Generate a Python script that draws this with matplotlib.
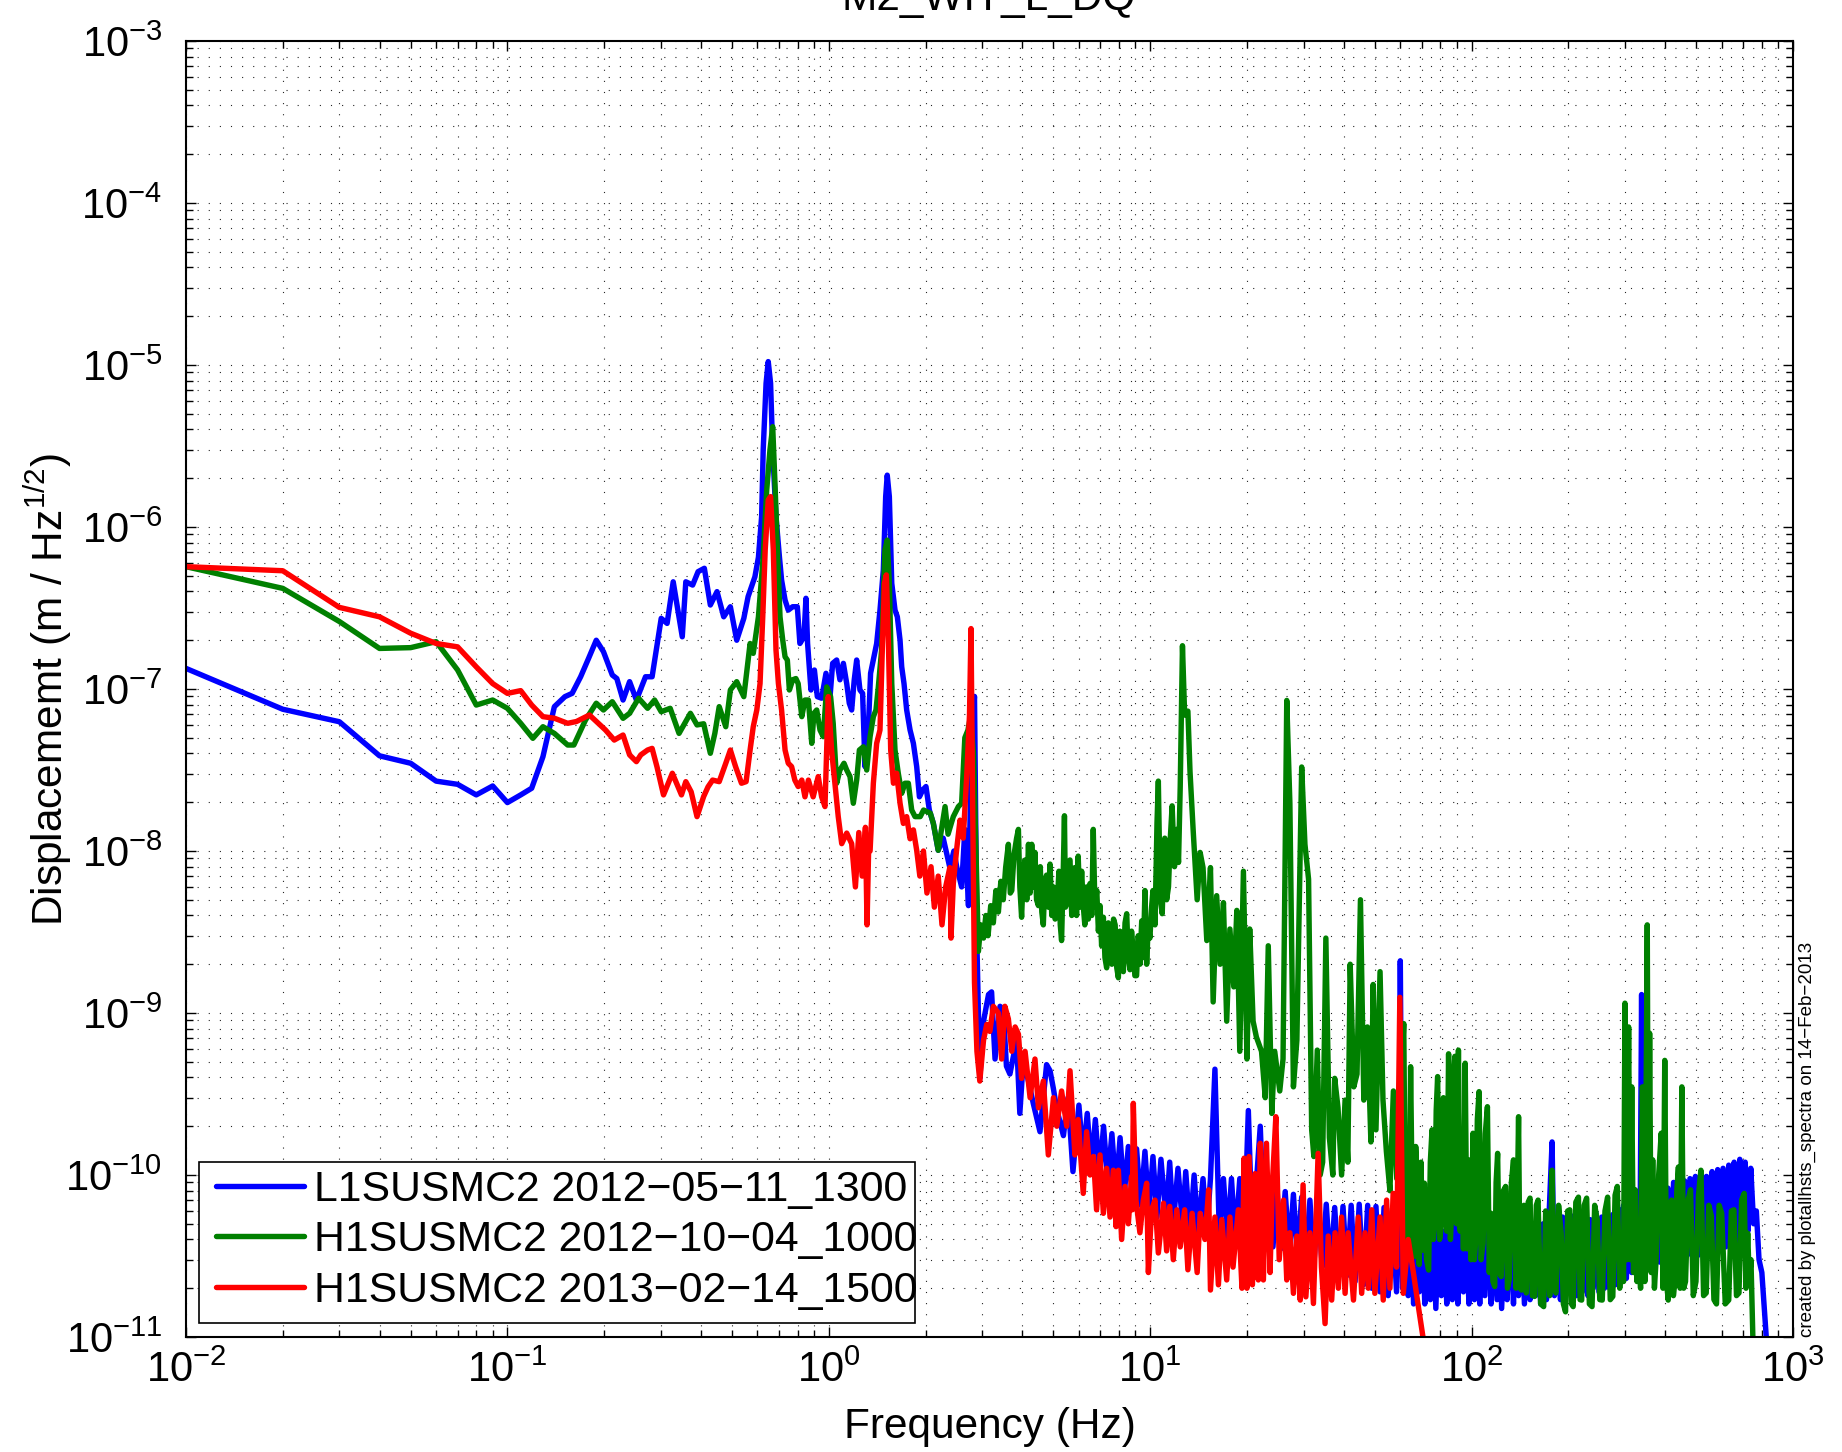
import matplotlib
matplotlib.use('Agg')
import matplotlib.pyplot as plt
from matplotlib.patches import Rectangle
from matplotlib.ticker import LogLocator, NullFormatter, LogFormatterSciNotation

plt.rcParams['font.family'] = ['Liberation Sans', 'DejaVu Sans']
plt.rcParams['mathtext.fontset'] = 'custom'
plt.rcParams['mathtext.rm'] = 'Liberation Sans'
plt.rcParams['mathtext.it'] = 'Liberation Sans:italic'
plt.rcParams['mathtext.bf'] = 'Liberation Sans:bold'
plt.rcParams['mathtext.default'] = 'regular'

# ---------------- data (frequency [Hz], displacement ASD [m/sqrt(Hz)]) ----------------
series_labels = ['L1SUSMC2 2012\u221205\u221211_1300',
                 'H1SUSMC2 2012\u221210\u221204_1000',
                 'H1SUSMC2 2013\u221202\u221214_1500']
series_colors = ['#0000ff', '#008000', '#ff0000']

blue_data = [
    (0.010,1.34e-7),(0.020,7.50e-8),(0.030,6.28e-8),(0.040,3.87e-8),(0.050,3.48e-8),(0.060,2.70e-8),(0.070,2.58e-8),(0.080,2.22e-8),(0.090,2.52e-8),(0.100,1.99e-8),
    (0.110,2.22e-8),(0.119,2.44e-8),(0.129,3.82e-8),(0.140,7.78e-8),(0.151,8.97e-8),(0.159,9.4e-8),(0.169,1.19e-7),(0.179,1.55e-7),(0.189,2.0e-7),(0.199,1.70e-7),
    (0.212,1.22e-7),(0.219,1.16e-7),(0.229,8.55e-8),(0.240,1.11e-7),(0.252,8.55e-8),(0.269,1.19e-7),(0.282,1.19e-7),(0.301,2.73e-7),(0.314,2.54e-7),(0.328,4.59e-7),
    (0.350,2.10e-7),(0.359,4.59e-7),(0.377,4.38e-7),(0.392,5.30e-7),(0.410,5.56e-7),(0.428,3.30e-7),(0.449,3.99e-7),(0.471,2.79e-7),(0.494,3.22e-7),(0.517,2.0e-7),
    (0.544,2.73e-7),(0.561,3.72e-7),(0.589,4.93e-7),(0.604,6.5e-7),(0.618,1.16e-6),(0.625,2.99e-6),(0.638,7.71e-6),(0.648,1.05e-5),(0.659,7.71e-6),(0.669,2.99e-6),
    (0.685,1.16e-6),(0.702,6.56e-7),(0.713,4.71e-7),(0.731,3.54e-7),(0.748,3.07e-7),(0.772,3.22e-7),(0.798,3.22e-7),(0.813,1.91e-7),(0.837,2.10e-7),(0.849,3.63e-7),
    (0.859,1.91e-7),(0.880,9.86e-8),(0.902,1.31e-7),(0.921,8.97e-8),(0.950,8.77e-8),(0.980,1.25e-7),(1.009,8.97e-8),(1.028,1.44e-7),(1.058,1.51e-7),(1.083,1.14e-7),
    (1.110,1.44e-7),(1.137,1.08e-7),(1.158,8.17e-8),(1.178,7.42e-8),(1.200,1.14e-7),(1.221,1.51e-7),(1.250,9.86e-8),(1.274,9.40e-8),(1.296,3.32e-8),(1.327,5.58e-8),
    (1.349,1.25e-7),(1.382,1.58e-7),(1.409,1.91e-7),(1.443,3.07e-7),(1.478,5.43e-7),(1.503,1.54e-6),(1.520,2.09e-6),(1.543,1.54e-6),(1.570,4.49e-7),(1.607,3.07e-7),
    (1.634,2.79e-7),(1.666,2.00e-7),(1.686,1.37e-7),(1.714,1.08e-7),(1.747,7.42e-8),(1.790,5.58e-8),(1.833,4.62e-8),(1.877,3.32e-8),(1.914,2.16e-8),(1.960,2.38e-8),
    (2.006,2.50e-8),(2.055,1.79e-8),(2.115,1.48e-8),(2.19,1.01e-8),(2.27,1.2e-8),(2.38,7.9e-9),(2.45,1.0e-8),(2.50,8.0e-9),(2.59,6.0e-9),(2.65,1.36e-8),
    (2.72,4.6e-9),(2.78,5.0e-8),(2.84,9.0e-8),(2.89,2.65e-9),(2.95,3.95e-10),(3.03,8.9e-10),(3.14,1.3e-9),(3.21,1.35e-9),(3.29,5.2e-10),(3.41,1.1e-9),
    (3.49,1.05e-9),(3.57,4.7e-10),(3.66,4.2e-10),(3.84,6.8e-10),(3.93,2.4e-10),(4.03,5.2e-10),(4.18,3.8e-10),(4.33,2.75e-10),(4.54,1.85e-10),(4.76,4.8e-10),
    (4.88,4.4e-10),(5.00,3.4e-10),(5.12,2.55e-10),(5.37,1.75e-10),(5.55,3.0e-10),(5.75,1.05e-10),
    (6.0,2.7e-10),(6.18,1.3e-10),(6.37,2.4e-10),(6.56,1.1e-10),(6.75,2.2e-10),(6.96,1.0e-10),(7.16,2.0e-10),(7.38,9e-11),(7.6,1.8e-10),(7.83,8e-11),
    (8.06,1.7e-10),(8.3,7.5e-11),(8.55,1.5e-10),(8.81,7e-11),(9.07,1.45e-10),(9.35,6.5e-11),(9.63,1.4e-10),(9.91,6e-11),(10.2,1.3e-10),(10.5,5.5e-11),
    (10.8,1.25e-10),(11.2,5.5e-11),(11.5,1.2e-10),(11.8,5e-11),(12.2,1.1e-10),(12.6,5e-11),(12.9,1.05e-10),(13.3,4.5e-11),(13.7,1.0e-10),(14.1,4.5e-11),
    (14.6,9.5e-11),(15.0,4.5e-11),(15.4,9.5e-11),(15.9,4.5e-10),(16.4,4.5e-11),(16.9,9.5e-11),(17.4,4e-11),(17.9,9.5e-11),(18.4,4e-11),(19.0,9.5e-11),
    (19.6,4e-11),(20.2,2.5e-10),(20.8,4e-11),(21.4,9e-11),(22.0,2.0e-10),(22.7,3.8e-11),(23.4,8.7e-11),(24.1,3.6e-11),(24.8,8.2e-11),(25.5,3.5e-11),
    (26.3,7.9e-11),(27.1,3.3e-11),(27.9,7.6e-11),(28.7,3.1e-11),(29.6,7.3e-11),(30.5,3.0e-11),(31.4,7.0e-11),(32.3,2.8e-11),(33.3,6.9e-11),(34.3,2.7e-11),
    (35.3,6.6e-11),(36.4,2.6e-11),(37.5,6.3e-11),(38.6,2.5e-11),(39.8,6.4e-11),(41.0,2.4e-11),(42.2,6.5e-11),(43.4,2.2e-11),(44.7,6.6e-11),(46.1,2.1e-11),
    (47.5,6.5e-11),(48.9,2.0e-11),(50.4,6.4e-11),(51.9,1.9e-11),(53.4,6.3e-11),(55.0,1.8e-11),(56.7,6.2e-11),(58.4,1.9e-11),(59.5,6.0e-11),(60.0,2.1e-9),
    (61,2.0e-11),(62.2,5.5e-11),(63.5,1.8e-11),(64.7,4.8e-11),(66,1.6e-11),(67.3,5.3e-11),(68.7,1.9e-11),(70.1,5.6e-11),(71.5,1.6e-11),(72.9,4.6e-11),
    (74.4,1.7e-11),(75.8,5.2e-11),(77.4,1.5e-11),(78.9,5.0e-11),(80.5,1.8e-11),(82.1,4.5e-11),(83.7,1.6e-11),(85.4,5.4e-11),(87.1,1.7e-11),(88.9,5.5e-11),
    (90.6,1.6e-11),(92.4,4.8e-11),(94.3,1.9e-11),(96.2,5.1e-11),(98.1,1.6e-11),(100,5.6e-11),(102,1.7e-11),(104,4.7e-11),(106,1.6e-11),(108,5.5e-11),
    (110,1.8e-11),(113,5.0e-11),(115,1.6e-11),(117,4.6e-11),(120,1.7e-11),(122,5.3e-11),(124,1.5e-11),(127,5.0e-11),(129,1.7e-11),(132,5.4e-11),
    (135,1.6e-11),(137,4.8e-11),(140,1.8e-11),(143,5.2e-11),(146,1.6e-11),(149,5.5e-11),(152,1.7e-11),(155,4.7e-11),(158,1.8e-11),(161,5.3e-11),
    (164,1.6e-11),(167,5.0e-11),(171,1.7e-11),(174,5.4e-11),(178,1.6e-10),(181,1.8e-11),(185,5.0e-11),(189,1.7e-11),(192,5.5e-11),(196,1.8e-11),
    (200,5.2e-11),(204,1.9e-11),(208,5.6e-11),(212,1.8e-11),(217,5.0e-11),(221,1.9e-11),(225,5.7e-11),(230,1.8e-11),(234,5.3e-11),(239,2.0e-11),
    (244,5.8e-11),(249,1.9e-11),(254,5.5e-11),(259,2.0e-11),(264,6.0e-11),(269,2.0e-11),(275,5.7e-11),(280,2.1e-11),(286,6.2e-11),(291,2.2e-11),
    (297,6.5e-11),(303,2.3e-11),(309,7.0e-11),(315,2.5e-11),(322,7.5e-11),(328,2.6e-11),(335,8.0e-11),(338,1.3e-9),(341,2.8e-11),(348,8.2e-11),
    (355,2.9e-11),(362,8.5e-11),(370,3.0e-11),(377,8.0e-11),(385,2.9e-11),(392,8.6e-11),(400,3.0e-11),(408,8.3e-11),(416,3.1e-11),(425,9.0e-11),
    (433,3.0e-11),(442,8.8e-11),(451,3.1e-11),(460,9.2e-11),(469,3.2e-11),(478,9.5e-11),(488,3.1e-11),(497,9.8e-11),(507,3.2e-11),(518,1.0e-10),
    (528,3.3e-11),(538,9.8e-11),(549,3.3e-11),(560,1.05e-10),(571,3.4e-11),(583,1.08e-10),(594,3.5e-11),(606,1.1e-10),(618,3.6e-11),(631,1.15e-10),
    (643,3.7e-11),(656,1.2e-10),(669,3.9e-11),(683,1.25e-10),(696,4.1e-11),(710,1.2e-10),(724,4.5e-11),(739,1.1e-10),(754,5.0e-11),(769,6.0e-11),
    (784,3.0e-11),(800,2.5e-11),(816,1.4e-11),(832,8.0e-12),
]

green_data = [
    (0.010,5.69e-7),(0.020,4.18e-7),(0.030,2.61e-7),(0.040,1.78e-7),(0.050,1.80e-7),(0.060,1.96e-7),(0.070,1.31e-7),(0.080,7.96e-8),(0.090,8.55e-8),(0.100,7.6e-8),
    (0.110,6.14e-8),(0.120,4.96e-8),(0.129,5.85e-8),(0.140,5.32e-8),(0.154,4.51e-8),(0.161,4.51e-8),(0.175,6.44e-8),(0.189,8.17e-8),(0.199,7.42e-8),(0.212,8.35e-8),
    (0.229,6.59e-8),(0.240,7.08e-8),(0.256,8.77e-8),(0.273,7.6e-8),(0.287,8.55e-8),(0.301,7.24e-8),(0.321,7.6e-8),(0.342,5.32e-8),(0.371,7.08e-8),(0.389,6.0e-8),
    (0.408,6.1e-8),(0.428,4.01e-8),(0.442,5.32e-8),(0.456,7.78e-8),(0.478,5.85e-8),(0.494,9.86e-8),(0.517,1.11e-7),(0.544,8.97e-8),(0.569,1.91e-7),(0.582,1.66e-7),
    (0.604,2.79e-7),(0.625,6.56e-7),(0.641,1.69e-6),(0.656,2.99e-6),(0.669,4.16e-6),(0.680,1.86e-6),(0.692,7.21e-7),(0.705,2.79e-7),(0.719,2.00e-7),(0.731,1.58e-7),
    (0.743,1.51e-7),(0.754,9.86e-8),(0.772,1.14e-7),(0.790,1.16e-7),(0.803,1.08e-7),(0.824,6.75e-8),(0.843,8.55e-8),(0.864,8.55e-8),(0.885,4.62e-8),(0.899,7.08e-8),
    (0.917,7.42e-8),(0.939,5.58e-8),(0.961,5.08e-8),(0.985,1.03e-7),(1.013,8.97e-8),(1.032,6.14e-8),(1.058,2.62e-8),(1.083,3.16e-8),(1.115,3.48e-8),(1.137,3.16e-8),
    (1.164,2.88e-8),(1.192,1.97e-8),(1.221,2.74e-8),(1.245,4.2e-8),(1.281,4.4e-8),(1.312,3.16e-8),(1.344,5.08e-8),(1.376,6.75e-8),(1.402,7.42e-8),(1.426,1.03e-7),
    (1.460,1.74e-7),(1.495,7.21e-7),(1.520,8.3e-7),(1.543,4.49e-7),(1.570,1.08e-7),(1.607,4.2e-8),(1.645,3.02e-8),(1.686,2.27e-8),(1.726,2.62e-8),(1.768,2.62e-8),
    (1.811,1.79e-8),(1.855,1.63e-8),(1.925,1.63e-8),(1.972,1.79e-8),(2.07,1.71e-8),(2.115,1.48e-8),(2.19,1.01e-8),(2.30,1.88e-8),(2.35,1.27e-8),(2.44,1.63e-8),
    (2.53,1.88e-8),(2.59,1.97e-8),(2.65,5.0e-8),(2.71,5.58e-8),(2.76,6.75e-8),(2.82,4.0e-8),(2.87,1.01e-8),
    (2.92,2.4e-9),(2.97,3.5e-9),(3.03,2.9e-9),(3.08,4.0e-9),(3.13,3.0e-9),(3.19,4.6e-9),(3.25,3.6e-9),(3.31,5.7e-9),(3.37,4.2e-9),(3.43,6.5e-9),
    (3.49,5.0e-9),(3.55,7.9e-9),(3.62,1.1e-8),(3.67,5.5e-9),(3.71,5.7e-9),(3.77,9.5e-9),(3.84,1.2e-8),(3.89,1.36e-8),(3.93,6.0e-9),(3.98,3.9e-9),
    (4.03,7.5e-9),(4.08,8.8e-9),(4.13,5.0e-9),(4.18,1.1e-8),(4.23,5.5e-9),(4.28,1.1e-8),(4.33,6.0e-9),(4.38,9.8e-9),(4.43,5.0e-9),(4.49,4.6e-9),
    (4.55,8.0e-9),(4.60,4.2e-9),(4.65,3.5e-9),(4.70,6.5e-9),(4.76,7.1e-9),(4.82,4.5e-9),(4.88,8.3e-9),(4.94,4.0e-9),(5.00,6.0e-9),(5.06,3.8e-9),
    (5.12,4.1e-9),(5.20,7.5e-9),(5.25,3.5e-9),(5.30,2.8e-9),(5.36,7.0e-9),(5.41,1.65e-8),(5.45,4.5e-9),(5.50,4.8e-9),(5.56,8.5e-9),(5.63,8.8e-9),
    (5.70,4.0e-9),(5.76,6.5e-9),(5.83,7.9e-9),(5.90,4.0e-9),(5.97,9.3e-9),(6.04,4.5e-9),(6.12,7.5e-9),(6.19,4.6e-9),(6.26,3.5e-9),(6.34,6.0e-9),
    (6.42,3.8e-9),(6.50,6.3e-9),(6.58,4.0e-9),(6.65,1.36e-8),(6.73,4.5e-9),(6.82,5.7e-9),(6.90,3.2e-9),(6.98,4.6e-9),(7.06,2.6e-9),(7.15,3.9e-9),
    (7.23,2.2e-9),(7.32,1.9e-9),(7.41,3.6e-9),(7.50,3.3e-9),(7.60,2.0e-9),(7.69,3.8e-9),(7.78,3.5e-9),(7.87,1.9e-9),(7.96,1.65e-9),(8.05,3.2e-9),
    (8.15,2.9e-9),(8.25,1.8e-9),(8.35,3.6e-9),(8.45,4.1e-9),(8.55,2.2e-9),(8.65,1.85e-9),(8.75,3.2e-9),(8.86,2.4e-9),(8.96,1.7e-9),(9.07,1.7e-9),
    (9.18,3.0e-9),(9.29,2.0e-9),(9.41,3.7e-9),(9.52,2.2e-9),(9.63,5.7e-9),(9.75,2.0e-9),(9.86,3.5e-9),(9.98,2.9e-9),(10.1,4.5e-9),(10.2,5.7e-9),
    (10.35,3.5e-9),(10.5,1.5e-8),(10.6,2.7e-8),(10.75,5.0e-9),(10.9,4.1e-9),(11.0,8.0e-9),(11.1,1.2e-8),(11.25,5.0e-9),(11.4,6.0e-9),(11.55,1.2e-8),
    (11.7,1.9e-8),(11.9,8.0e-9),(12.1,1.36e-8),(12.25,8.5e-9),(12.4,2.5e-8),
    (12.6,1.85e-7),(12.8,6.9e-8),(13.1,7.3e-8),(13.3,3.1e-8),(13.6,1.36e-8),(14.0,5.0e-9),(14.3,9.8e-9),(14.6,7.9e-9),(15.0,2.8e-9),
    (15.4,7.9e-9),(15.7,1.17e-9),(16.1,5.3e-9),(16.5,2.0e-9),(16.9,4.8e-9),(17.3,8.9e-10),(17.7,3.3e-9),(18.2,1.45e-9),(18.6,4.3e-9),(19.0,5.8e-10),
    (19.5,7.5e-9),(20.0,5.2e-10),(20.4,3.3e-9),(20.9,8.9e-10),(21.4,7.1e-10),(22.2,5.8e-10),(22.8,3.0e-10),(23.3,2.6e-9),(23.9,2.4e-10),(24.4,5.8e-10),
    (25.3,3.3e-10),(25.9,5.2e-10),(26.6,8.5e-8),(27.2,1.98e-8),(27.9,3.5e-10),(28.6,6.8e-10),(29.6,3.3e-8),(30.3,1.1e-8),(31.1,6.7e-9),(31.8,1.9e-10),
    (32.3,1.3e-10),(33.1,5.9e-10),(33.8,1.0e-10),(34.4,1.2e-10),(35.2,2.9e-9),(36.1,1.7e-10),(37.0,1.0e-10),(37.5,3.95e-10),(38.4,2.6e-10),(39.4,1.0e-10),
    (40.4,2.9e-10),(41.2,1.2e-10),(41.9,2.0e-9),(43.0,3.5e-10),(44.0,4.2e-10),(45.1,5.0e-9),(46.2,2.9e-10),(47.4,8.2e-10),(48.6,1.6e-10),(49.4,1.5e-9),
    (50.4,1.9e-10),(51.9,1.8e-9),(53.0,2.9e-10),(54.3,1.4e-10),(55.7,8.0e-11),(57.1,3.3e-10),(58.5,9.5e-11),(59.9,2.5e-10),
    (61.5,8.6e-10),(62.3,4.0e-11),(63.1,1.36e-10),(63.8,3.5e-11),(64.6,4.66e-10),(65.4,6.0e-11),(66.2,3.13e-11),(67.0,1.5e-10),(67.9,8.5e-11),(68.7,2.8e-11),
    (69.6,1.2e-10),(70.4,3.44e-11),(71.3,8.9e-11),(72.4,3.0e-11),(73.5,2.59e-11),(74.4,1.2e-10),(75.3,1.9e-10),(76.0,4.0e-11),(76.8,5.3e-11),(77.6,2.5e-10),
    (78.4,4.05e-10),(79.5,4.0e-11),(80.7,5.0e-11),(81.7,3.0e-10),(82.7,2.29e-10),(83.7,4.5e-11),(84.8,5.6e-10),(85.9,4.0e-11),(87.0,6.7e-11),(87.8,4.0e-10),
    (88.7,5.4e-10),(89.8,5.0e-11),(91.0,5.9e-10),(92.1,4.5e-11),(93.2,1.81e-10),(94.3,3.5e-11),(95.5,4.9e-10),(96.7,3.5e-11),(97.9,1.24e-10),(99.5,3.0e-11),
    (101,1.81e-10),(102,3.0e-11),(103,3.97e-11),(104.2,2.2e-10),(105.5,3.27e-10),(107,3.0e-11),(108.6,3.79e-11),(110.3,1.8e-10),(112,2.64e-10),(113.5,2.5e-11),
    (115,5.8e-11),(116.5,2.2e-11),(118,2.05e-11),(119.2,9e-11),(120.5,1.36e-10),(122,2.5e-11),(123.6,2.36e-11),(125.6,8e-11),(127.6,8.5e-11),(129.3,2.0e-11),
    (131,2.27e-11),(133,9e-11),(135,1.24e-10),(137.5,2.0e-11),(140,2.29e-10),(141.5,2.0e-11),(143,1.95e-11),(145.5,6.5e-11),(148,1.87e-11),(150,6.8e-11),
    (152,7.2e-11),(154.5,1.8e-11),(157,1.78e-11),(159,6.5e-11),(161,7.0e-11),(164,1.6e-11),(167.6,1.54e-11),(170,6.0e-11),(172,5.3e-11),(175,1.8e-11),
    (178,1.07e-10),(180.5,2.0e-11),(183,1.87e-11),(186.5,6.5e-11),(190,4.37e-11),(193,1.6e-11),(196,1.43e-11),(199,6.0e-11),(202,6.1e-11),(204.5,1.6e-11),
    (207,1.54e-11),(211,6.8e-11),(215,7.3e-11),(217.5,1.7e-11),(220,1.69e-11),(224,6.5e-11),(228,7.2e-11),(232.5,1.6e-11),(237,1.54e-11),(241.5,6.5e-11),
    (246,5.3e-11),(250.5,1.7e-11),(255,1.69e-11),(260,6.0e-11),(265,7.3e-11),(270,1.7e-11),(275,1.78e-11),(279.5,7.5e-11),(284,8.5e-11),(289,2.0e-11),
    (294,4.37e-11),(297,2.2e-11),(300,1.15e-9),(304,3.0e-11),(308,8.2e-10),(311.5,3.0e-11),(315,3.5e-10),(319,2.5e-11),(323,8.1e-11),(327,2.2e-11),
    (331,4.37e-11),(335.5,2.0e-11),(340,3.5e-10),(346,2.2e-11),(352,3.5e-9),(355,3.0e-11),(358,7.5e-10),(362,2.5e-11),(366,1.24e-10),(370.5,2.0e-11),
    (375,2.99e-11),(382,1.0e-10),(389,1.81e-10),(394,2.0e-11),(399,5.1e-10),(404,2.2e-11),(409,1.69e-11),(414,6.5e-11),(419,7.0e-11),(424.5,1.8e-11),
    (430,2.27e-11),(435,8e-11),(440,1.12e-10),(445.5,2.0e-11),(451,3.5e-10),(457,2.0e-11),(463,2.2e-11),(471.5,7.0e-11),(480,8.1e-11),(489.5,1.8e-11),
    (499,2.2e-11),(508,7.5e-11),(517,1.07e-10),(527,1.8e-11),(537,1.87e-11),(547,6.5e-11),(557,5.6e-11),(567.5,1.7e-11),(578,1.6e-11),(589,6.5e-11),
    (600,5.8e-11),(615.5,1.6e-11),(631,1.69e-11),(643,6.0e-11),(655,6.1e-11),(667,1.8e-11),(679,1.87e-11),(692,7.0e-11),(705,7.7e-11),(714,2.0e-11),
    (723,4.37e-11),(731,2.2e-11),(740,3.0e-11),(750,1.0e-11),(765,6.0e-12),
]

red_data = [
    (0.010,5.69e-7),(0.020,5.37e-7),(0.030,3.19e-7),(0.040,2.79e-7),(0.050,2.21e-7),(0.060,1.91e-7),(0.070,1.82e-7),(0.080,1.37e-7),(0.090,1.08e-7),(0.100,9.4e-8),
    (0.110,9.77e-8),(0.119,7.96e-8),(0.129,6.75e-8),(0.140,6.6e-8),(0.154,6.14e-8),(0.164,6.3e-8),(0.180,6.91e-8),(0.202,5.58e-8),(0.215,4.84e-8),(0.229,5.2e-8),
    (0.240,3.92e-8),(0.252,3.56e-8),(0.260,3.92e-8),(0.273,4.2e-8),(0.282,4.3e-8),(0.292,3.31e-8),(0.306,2.22e-8),(0.326,3.02e-8),(0.348,2.22e-8),(0.359,2.68e-8),
    (0.373,2.32e-8),(0.389,1.63e-8),(0.408,2.17e-8),(0.421,2.49e-8),(0.435,2.74e-8),(0.456,2.68e-8),(0.478,3.48e-8),(0.494,4.2e-8),(0.513,3.31e-8),(0.535,2.62e-8),
    (0.553,2.68e-8),(0.569,4.2e-8),(0.582,5.85e-8),(0.597,7.42e-8),(0.611,1.08e-7),(0.623,2.79e-7),(0.634,7.21e-7),(0.648,1.47e-6),(0.659,1.54e-6),(0.672,7.21e-7),
    (0.685,1.74e-7),(0.697,1.08e-7),(0.713,7.42e-8),(0.731,4.2e-8),(0.748,3.48e-8),(0.766,3.32e-8),(0.784,2.74e-8),(0.803,2.50e-8),(0.824,2.74e-8),(0.843,2.16e-8),
    (0.864,2.74e-8),(0.894,2.16e-8),(0.927,2.88e-8),(0.950,2.16e-8),(0.973,1.88e-8),(0.996,8.97e-8),(1.02,4.2e-8),(1.045,2.62e-8),(1.07,1.63e-8),(1.097,1.11e-8),
    (1.137,1.29e-8),(1.178,1.11e-8),(1.21,6.0e-9),(1.24,1.3e-8),(1.27,7.0e-9),(1.30,1.4e-8),(1.315,3.5e-9),(1.33,1.0e-8),(1.344,1.0e-8),(1.376,2.62e-8),
    (1.409,4.62e-8),(1.443,5.58e-8),(1.47,2.0e-7),(1.49,4.49e-7),(1.51,5.06e-7),(1.533,1.91e-7),(1.558,4.2e-8),(1.589,2.62e-8),(1.626,3.02e-8),(1.666,1.97e-8),
    (1.706,1.48e-8),(1.747,1.63e-8),(1.790,1.19e-8),(1.833,1.35e-8),(1.877,1.01e-8),(1.92,7.0e-9),(1.97,1.0e-8),(2.02,5.5e-9),(2.08,8.0e-9),(2.13,4.5e-9),
    (2.19,7.0e-9),(2.25,3.5e-9),(2.31,6.0e-9),(2.38,7.9e-9),(2.40,2.9e-9),(2.44,6.3e-9),(2.50,1.03e-8),(2.56,1.55e-8),(2.62,1.2e-8),(2.69,3.06e-8),
    (2.74,6.9e-8),(2.77,2.36e-7),(2.80,2.33e-8),(2.84,1.54e-9),(2.89,5.8e-10),(2.95,3.8e-10),(3.03,6.8e-10),(3.10,8.5e-10),(3.17,7.7e-10),(3.25,1.1e-9),
    (3.37,1.0e-9),(3.45,5.2e-10),(3.53,1.1e-9),(3.62,9.2e-10),(3.71,5.8e-10),(3.80,8.2e-10),(3.89,7.4e-10),(3.98,3.95e-10),(4.08,5.8e-10),(4.23,3.0e-10),
    (4.38,5.2e-10),(4.49,2.6e-10),(4.65,3.8e-10),(4.82,1.33e-10),(5.00,3.0e-10),(5.12,2.0e-10),(5.30,3.3e-10),(5.50,2.0e-10),(5.63,4.4e-10),(5.83,1.33e-10),
    (5.97,2.2e-10),(6.19,7.7e-11),(6.34,1.85e-10),(6.50,1.0e-10),(6.66,1.3e-10),(6.81,6.1e-11),(6.98,1.33e-10),(7.15,5.8e-11),(7.32,1.10e-10),(7.50,5.5e-11),
    (7.68,1.07e-10),(7.83,4.8e-11),(7.96,1.07e-10),(8.15,4.0e-11),(8.35,8.5e-11),(8.55,5.0e-11),(8.75,9.8e-11),(8.80,6.1e-11),(8.86,2.77e-10),(9.03,7.0e-11),
    (9.29,4.4e-11),(9.52,7.0e-11),(9.75,8.9e-11),(9.87,2.5e-11),(10.1,6.1e-11),(10.35,7.0e-11),(10.6,3.3e-11),(11.0,6.7e-11),(11.25,3.4e-11),(11.5,6.4e-11),
    (11.8,3.0e-11),(12.1,6.1e-11),(12.4,3.6e-11),(12.8,6.1e-11),(13.1,2.6e-11),(13.5,5.8e-11),(14.0,2.5e-11),(14.3,5.8e-11),(14.8,4.0e-11),(15.2,8.1e-11),
    (15.4,1.95e-11),(15.9,5.5e-11),(16.3,2.1e-11),(16.7,5.3e-11),(17.3,2.25e-11),(17.7,5.5e-11),(18.1,2.7e-11),(18.8,6.1e-11),(19.3,2.0e-11),(19.6,1.27e-10),
    (20.0,2.0e-11),(20.3,1.30e-10),(20.8,2.1e-11),(21.2,1.02e-10),(21.7,2.25e-11),(22.0,1.57e-10),(22.5,2.25e-11),(23.0,1.57e-10),(23.6,2.5e-11),(24.0,8.9e-11),
    (24.6,2.29e-10),(25.2,3.0e-11),(26.0,7.0e-11),(26.6,2.25e-11),(27.2,4.4e-11),(27.9,1.86e-11),(28.6,4.2e-11),(29.3,1.69e-11),(29.9,8.7e-11),(30.5,1.77e-11),
    (31.4,4.4e-11),(32.2,1.61e-11),(33.3,1.36e-10),(34.1,2.7e-11),(35.0,1.21e-11),(35.8,4.2e-11),(36.7,1.69e-11),(37.6,4.4e-11),(38.5,2.0e-11),(39.4,5.5e-11),
    (40.4,1.86e-11),(41.3,4.4e-11),(42.9,1.69e-11),(44.4,5.5e-11),(45.5,1.86e-11),(46.6,4.4e-11),(47.7,2.0e-11),(48.9,6.1e-11),(50.0,1.86e-11),(51.9,5.5e-11),
    (53.1,1.69e-11),(54.4,7.0e-11),(55.7,2.0e-11),(57.0,7.7e-11),(58.4,2.7e-11),(59.8,1.25e-9),(61.3,1.86e-11),(63.5,4.0e-11),(65.9,2.5e-11),(68.3,1.54e-11),
    (70.8,9.6e-12),(72.5,6.0e-12),
]

title_text = 'M2_WIT_L_DQ'
xlabel_text = 'Frequency (Hz)'
ylabel_text = 'Displacememt (m / Hz$^{1/2}$)'
credit_text = 'created by plotallhsts_spectra on 14\u2212Feb\u22122013'
x_limits = (1e-2, 1e3)
y_limits = (1e-11, 1e-3)

# ---------------- figure ----------------
W, H = 1842, 1452
fig = plt.figure(figsize=(W / 100, H / 100), dpi=100)
fig.patch.set_facecolor('white')
ax = fig.add_axes([186 / W, 1 - 1337 / H, (1793 - 186) / W, (1337 - 41) / H])

for data, color, label in zip([blue_data, green_data, red_data], series_colors, series_labels):
    f, a = zip(*data)
    ax.plot(f, a, color=color, lw=3.9, label=label,
            solid_joinstyle='round', solid_capstyle='round')

ax.set_xscale('log')
ax.set_yscale('log')
ax.set_xlim(*x_limits)
ax.set_ylim(*y_limits)

for axis in (ax.xaxis, ax.yaxis):
    axis.set_major_locator(LogLocator(base=10, numticks=30))
    axis.set_minor_locator(LogLocator(base=10, subs=tuple(range(2, 10)), numticks=300))
    axis.set_major_formatter(LogFormatterSciNotation())
    axis.set_minor_formatter(NullFormatter())

ax.set_axisbelow(True)
ax.grid(True, which='both', color='black', linestyle=(0, (1, 9)), linewidth=0.8, alpha=0.85)

ax.tick_params(which='both', direction='in', top=True, right=True, width=1.0, color='k')
ax.tick_params(which='major', length=7, labelsize=30)
ax.tick_params(which='minor', length=5)
ax.tick_params(axis='x', which='major', pad=10)
ax.tick_params(axis='y', which='major', pad=17)
for s in ax.spines.values():
    s.set_linewidth(1.5)
    s.set_color('black')

ax.set_xlabel(xlabel_text, fontsize=30.5)
ax.xaxis.set_label_coords(0.5, -0.054)
ax.set_ylabel(ylabel_text, fontsize=30.5)
ax.yaxis.set_label_coords(-0.070, 0.5)

# legend box (white, black edge) and entries
box = Rectangle((0.00778, 0.0108), 0.4536 - 0.00778, 0.1350 - 0.0108, transform=ax.transAxes,
                facecolor='white', edgecolor='black', linewidth=1.2, zorder=4.5, clip_on=False)
ax.add_patch(box)
leg = ax.legend(loc='upper left', bbox_to_anchor=(0.01867, 0.1292), borderaxespad=0,
                fontsize=30.8, handlelength=2.05, handletextpad=0.24, borderpad=0,
                labelspacing=0.25, frameon=False)
leg.set_zorder(5)

fig.text(989 / W, 1 - 10 / H, title_text, ha='center', va='baseline', fontsize=30.5)
fig.text(1812 / W, 1 - 1337 / H, credit_text, rotation=90, rotation_mode='anchor',
         ha='left', va='baseline', fontsize=13.5)

fig.savefig('out.png', dpi=100)
